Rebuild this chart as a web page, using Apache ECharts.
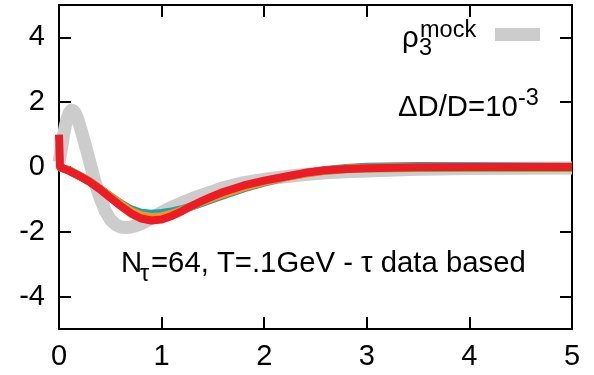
<!DOCTYPE html>
<html>
<head>
<meta charset="utf-8">
<script src="https://cdn.jsdelivr.net/npm/echarts@6/dist/echarts.min.js"></script>
<style>
  html, body { margin: 0; padding: 0; background: #fff; }
  #chart { width: 594px; height: 375px; }
</style>
</head>
<body>
<div id="chart"></div>
<script>
// Spectral function rho_3: mock input and tau-data based reconstructions
const FONT = '"Liberation Sans", Arial, Helvetica, sans-serif';

const xTicks = [0, 1, 2, 3, 4, 5];
const yTicks = [-4, -2, 0, 2, 4];

// mock spectral function (thick grey band)
const mockX = [0, 0.02, 0.04, 0.06, 0.08, 0.1, 0.12, 0.14, 0.16, 0.18, 0.2, 0.225, 0.25, 0.275, 0.3, 0.325, 0.35, 0.375, 0.4, 0.45, 0.5, 0.55, 0.6, 0.65, 0.7, 0.75, 0.8, 0.9, 1.0, 1.1, 1.2, 1.3, 1.4, 1.5, 1.6, 1.8, 2.0, 2.2, 2.4, 2.6, 2.8, 3.0, 3.5, 4.0, 4.5, 5.0];
const mockY = [0.15, 0.5, 0.9, 1.25, 1.5, 1.67, 1.75, 1.74, 1.65, 1.5, 1.3, 1.03, 0.75, 0.45, 0.15, -0.15, -0.45, -0.72, -0.95, -1.35, -1.62, -1.77, -1.85, -1.87, -1.85, -1.81, -1.75, -1.58, -1.4, -1.24, -1.1, -0.97, -0.86, -0.75, -0.64, -0.48, -0.38, -0.3, -0.23, -0.18, -0.15, -0.12, -0.07, -0.05, -0.04, -0.03];

// reconstructions
const recX = [0, 0.1, 0.2, 0.3, 0.4, 0.5, 0.6, 0.7, 0.8, 0.9, 1.0, 1.1, 1.2, 1.3, 1.4, 1.5, 1.6, 1.8, 2.0, 2.2, 2.4, 2.6, 2.8, 3.0, 3.5, 4.0, 5.0];
const cyanY = [0, -0.1, -0.27, -0.45, -0.67, -0.9, -1.12, -1.3, -1.41, -1.44, -1.42, -1.37, -1.3, -1.21, -1.1, -0.99, -0.88, -0.66, -0.48, -0.32, -0.19, -0.09, -0.03, 0.01, 0.03, 0.02, 0.01];
const greenY = [0, -0.11, -0.27, -0.45, -0.67, -0.91, -1.15, -1.37, -1.52, -1.58, -1.56, -1.47, -1.34, -1.2, -1.06, -0.93, -0.8, -0.6, -0.44, -0.31, -0.2, -0.12, -0.07, -0.05, -0.03, -0.03, -0.03];
const orangeY = [0, -0.11, -0.27, -0.45, -0.67, -0.91, -1.14, -1.35, -1.49, -1.54, -1.52, -1.44, -1.33, -1.2, -1.07, -0.95, -0.84, -0.63, -0.46, -0.32, -0.2, -0.11, -0.05, -0.02, 0, 0, 0];
const redX = [0, 0.01, 0.1, 0.2, 0.3, 0.4, 0.5, 0.6, 0.7, 0.8, 0.9, 1.0, 1.1, 1.2, 1.3, 1.4, 1.5, 1.6, 1.8, 2.0, 2.2, 2.4, 2.6, 2.8, 3.0, 3.5, 4.0, 5.0];
const redY = [1.0, 0.0, -0.12, -0.28, -0.46, -0.69, -0.95, -1.2, -1.43, -1.59, -1.65, -1.62, -1.51, -1.36, -1.19, -1.04, -0.9, -0.77, -0.57, -0.42, -0.3, -0.18, -0.1, -0.06, -0.04, -0.01, 0, 0];

const pairs = (xs, ys) => xs.map((x, i) => [x, ys[i]]);

const axisLine = { show: true, onZero: false, lineStyle: { color: '#000', width: 2 } };
const tick = { show: true, inside: true, length: 12, lineStyle: { color: '#000', width: 2 } };
const labelStyle = { color: '#000', fontSize: 29, fontFamily: FONT };

// text helper: left edge and baseline
function txt(str, left, baseline, size) {
  return {
    type: 'text', x: left, y: baseline - 0.31 * size, silent: true,
    style: { text: str, fontSize: size, fontFamily: FONT, fill: '#000', align: 'left', verticalAlign: 'middle' }
  };
}

function line(name, xs, ys, color, width) {
  return {
    name, type: 'line', data: pairs(xs, ys), showSymbol: false, symbol: 'none',
    smooth: false, animation: false,
    lineStyle: { color, width, cap: 'butt', join: 'round' },
    itemStyle: { color }
  };
}

const chart = echarts.init(document.getElementById('chart'), null, { renderer: 'canvas' });
chart.setOption({
  animation: false,
  backgroundColor: '#fff',
  grid: { left: 59, right: 22, top: 5, bottom: 46, containLabel: false },
  xAxis: [
    { type: 'value', min: 0, max: 5, interval: 1, position: 'bottom',
      axisLine, axisTick: tick, splitLine: { show: false },
      axisLabel: Object.assign({ margin: 13, customValues: xTicks }, labelStyle) },
    { type: 'value', min: 0, max: 5, interval: 1, position: 'top',
      axisLine, axisTick: tick, splitLine: { show: false }, axisLabel: { show: false } }
  ],
  yAxis: [
    { type: 'value', min: -5, max: 5, interval: 1, position: 'left',
      axisLine, axisTick: Object.assign({ customValues: yTicks }, tick), splitLine: { show: false },
      axisLabel: Object.assign({ margin: 14, customValues: yTicks }, labelStyle) },
    { type: 'value', min: -5, max: 5, interval: 1, position: 'right',
      axisLine, axisTick: Object.assign({ customValues: yTicks }, tick), splitLine: { show: false },
      axisLabel: { show: false } }
  ],
  legend: {
    data: ['mock'], left: 495, top: 28, padding: 0, itemGap: 0,
    icon: 'rect', itemWidth: 45, itemHeight: 13,
    formatter: () => '', selectedMode: false
  },
  series: [
    line('mock', mockX, mockY, '#cccccc', 13),
    line('rec1', recX, cyanY, '#12a3b5', 8),
    line('rec2', recX, greenY, '#6cbf3f', 8),
    line('rec3', recX, orangeY, '#f7941d', 8),
    line('rec4', redX, redY, '#ed1c24', 8)
  ],
  graphic: [
    txt('ρ', 402, 48, 29.3),
    txt('3', 419, 56, 23.5),
    txt('mock', 420, 38, 23.5),
    txt('ΔD/D=10', 398, 117, 29.3),
    txt('-3', 518, 106, 23.5),
    txt('N', 121, 273, 29.3),
    txt('τ', 140, 282, 23.5),
    txt('=64, T=.1GeV - τ data based', 151, 273, 29.3)
  ]
});
</script>
</body>
</html>
